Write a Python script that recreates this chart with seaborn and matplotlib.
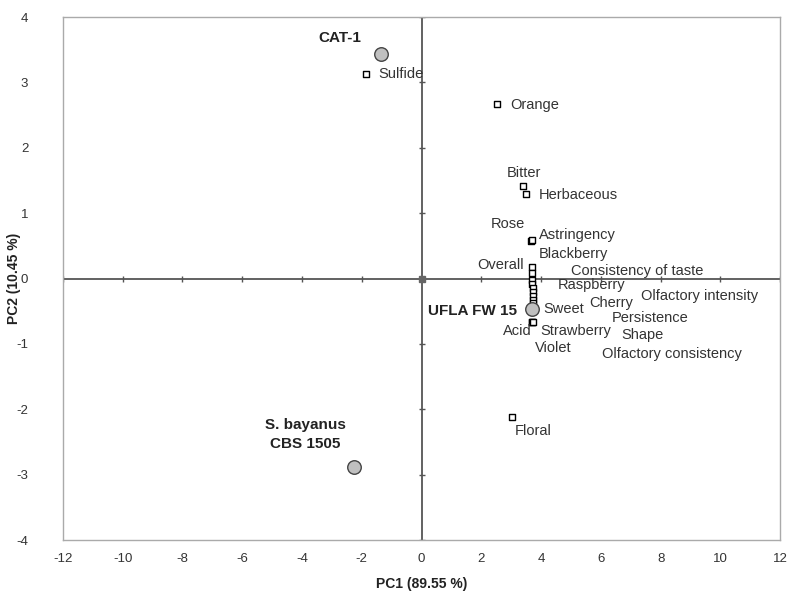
import matplotlib
matplotlib.use("Agg")
import matplotlib.pyplot as plt
import seaborn as sns
import pandas as pd

sns.set_theme(style="white")
plt.rcParams["font.family"] = ["Liberation Sans", "DejaVu Sans"]
plt.rcParams["axes.unicode_minus"] = False

# Sensory attribute loadings (PC1, PC2)
attributes = ["Sulfide", "Orange", "Bitter", "Herbaceous", "Rose", "Astringency",
              "Overall", "Blackberry", "Consistency of taste", "Raspberry", "Cherry",
              "Olfactory intensity", "Persistence", "Shape", "Olfactory consistency",
              "Sweet", "Acid", "Strawberry", "Violet", "Floral"]
attr_pc1 = [-1.87, 2.54, 3.41, 3.48, 3.66, 3.70,
            3.70, 3.71, 3.70, 3.71, 3.72,
            3.72, 3.72, 3.73, 3.73,
            3.71, 3.70, 3.71, 3.72, 3.04]
attr_pc2 = [3.13, 2.67, 1.42, 1.30, 0.57, 0.59,
            0.17, 0.08, -0.03, -0.09, -0.15,
            -0.21, -0.27, -0.33, -0.38,
            -0.47, -0.66, -0.66, -0.66, -2.12]

# Yeast strain scores
strains = ["CAT-1", "UFLA FW 15", "S. bayanus\nCBS 1505"]
strain_pc1 = [-1.37, 3.71, -2.27]
strain_pc2 = [3.44, -0.47, -2.89]

x_ticks = [-12, -10, -8, -6, -4, -2, 0, 2, 4, 6, 8, 10, 12]
y_ticks = [-4, -3, -2, -1, 0, 1, 2, 3, 4]

attr_df = pd.DataFrame({"PC1": attr_pc1, "PC2": attr_pc2, "name": attributes})
strain_df = pd.DataFrame({"PC1": strain_pc1, "PC2": strain_pc2, "name": strains})

fig = plt.figure(figsize=(7.92, 5.95), dpi=100)
ax = fig.add_axes([0.0795, 0.0924, 0.9055, 0.879])

# centre lines through the origin
ax.axhline(0, color="#555555", lw=1.3, zorder=1)
ax.axvline(0, color="#555555", lw=1.3, zorder=1)
# small tick marks along the centre lines
ax.plot(x_ticks, [0] * len(x_ticks), ls="none", marker="|", ms=4, color="#555555", mew=1, zorder=1)
ax.plot([0] * len(y_ticks), y_ticks, ls="none", marker="_", ms=4, color="#555555", mew=1, zorder=1)

sns.scatterplot(data=attr_df, x="PC1", y="PC2", ax=ax, marker="s", s=22,
                facecolor="white", edgecolor="black", linewidth=1.0, zorder=3, legend=False)
sns.scatterplot(data=strain_df, x="PC1", y="PC2", ax=ax, marker="o", s=95,
                facecolor="#c0c0c0", edgecolor="#444444", linewidth=1.0, zorder=4, legend=False)
# origin marker
ax.plot([0], [0], marker="s", ms=4, color="#666666", zorder=2)

# label anchor points (data units, left edge / vertical centre of each text)
attr_label_pos = {
    "Sulfide": (-1.44, 3.13), "Orange": (2.98, 2.66), "Bitter": (2.85, 1.62),
    "Herbaceous": (3.92, 1.28), "Rose": (2.31, 0.83), "Astringency": (3.92, 0.67),
    "Blackberry": (3.92, 0.37), "Overall": (1.87, 0.21),
    "Consistency of taste": (4.99, 0.12), "Raspberry": (4.55, -0.10),
    "Cherry": (5.62, -0.38), "Olfactory intensity": (7.36, -0.26),
    "Persistence": (6.36, -0.60), "Shape": (6.69, -0.87),
    "Olfactory consistency": (6.03, -1.15), "Sweet": (4.08, -0.47),
    "Acid": (2.74, -0.81), "Strawberry": (3.98, -0.81), "Violet": (3.78, -1.07),
    "Floral": (3.11, -2.34),
}
for name in attributes:
    tx, ty = attr_label_pos[name]
    ax.text(tx, ty, name, ha="left", va="center", fontsize=10.5, color="#333333")

strain_label_pos = {"CAT-1": (-2.74, 3.68, "center"),
                    "UFLA FW 15": (0.23, -0.50, "left"),
                    "S. bayanus\nCBS 1505": (-3.9, -2.38, "center")}
for name in strains:
    tx, ty, ha = strain_label_pos[name]
    ax.text(tx, ty, name, ha=ha, va="center", fontsize=11, fontweight="bold",
            color="#222222", linespacing=1.45)

ax.set_xlim(-12, 12)
ax.set_ylim(-4, 4)
ax.set_xticks(x_ticks)
ax.set_yticks(y_ticks)
ax.tick_params(axis="x", length=0, labelsize=9.5, colors="#333333", pad=9)
ax.tick_params(axis="y", length=0, labelsize=9.5, colors="#333333", pad=25)
for sp in ax.spines.values():
    sp.set_color("#aaaaaa")
    sp.set_linewidth(1.0)
ax.set_xlabel("PC1 (89.55 %)", fontsize=10, fontweight="bold", color="#222222", labelpad=9)
ax.set_ylabel("PC2 (10.45 %)", fontsize=10, fontweight="bold", color="#222222")
ax.yaxis.set_label_coords(-0.058, 0.5)

fig.savefig("out.png", dpi=100)
